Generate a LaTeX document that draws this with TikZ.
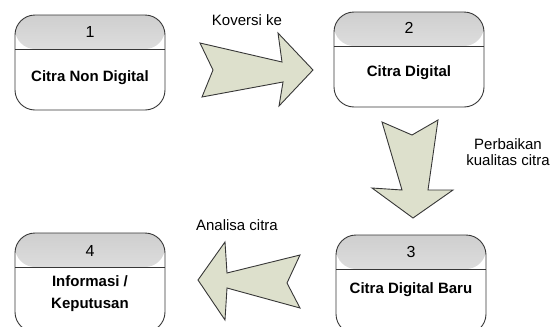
\documentclass[tikz,border=0pt]{standalone}
\usepackage{fontspec}
\setmainfont{Liberation Sans}
\usetikzlibrary{positioning}
\definecolor{garis}{RGB}{55,55,55}
\definecolor{isipanah}{RGB}{221,224,204}

\begin{document}
\begin{tikzpicture}[
    x = 1pt, y = -1pt,
    proses/.style = {rectangle, draw=garis, line width=0.9pt, rounded corners=20pt,
      minimum width=150pt, minimum height=95pt, inner sep=0pt,
      path picture={
        \shade[top color=black!19, bottom color=black!3]
          (path picture bounding box.north west) rectangle
          ([yshift=-34pt]path picture bounding box.north east);
        \draw[garis, line width=0.9pt]
          ([yshift=-34pt]path picture bounding box.north west) --
          ([yshift=-34pt]path picture bounding box.north east);}},
    nomor/.style = {font=\fontsize{16}{18}\selectfont},
    judul/.style = {font=\bfseries\fontsize{15}{22}\selectfont, align=center},
    panah/.style = {draw=garis, fill=isipanah, line width=0.9pt, line join=miter},
    ket/.style = {font=\fontsize{15}{16}\selectfont, align=center}
    ]
  \useasboundingbox (0,0) rectangle (555,327);

  % kotak proses
  \node[proses] (p1) at (90,62.5) {} ;
  \node[nomor] (n1) at ([yshift=-17pt]p1.north) {1} ;
  \node[judul] (t1) at ([yshift=-63pt]p1.north) {Citra Non Digital} ;

  \node[proses] (p2) at (409,59.5) {} ;
  \node[nomor] (n2) at ([yshift=-16pt]p2.north) {2} ;
  \node[judul] (t2) at ([yshift=-61pt]p2.north) {Citra Digital} ;

  \node[proses, minimum height=99pt] (p3) at (411,284.5) {} ;
  \node[nomor] (n3) at ([yshift=-17pt]p3.north) {3} ;
  \node[judul] (t3) at ([yshift=-55pt]p3.north) {Citra Digital Baru} ;

  \node[proses, minimum height=99pt] (p4) at (90,282.5) {} ;
  \node[nomor] (n4) at ([yshift=-18pt]p4.north) {4} ;
  \node[judul] (t4) at ([yshift=-61pt]p4.north) {Informasi /\\Keputusan} ;

  % panah besar
  \draw[panah] (200,43) -- (282,62) -- (278,33) -- (313,70) -- (279,106)
    -- (283,82) -- (202,97) -- (213,70) -- cycle ;
  \draw[panah] (382,122) -- (412,135) -- (438,120) -- (428,190) -- (453,190)
    -- (413,218) -- (372,188) -- (402,190) -- cycle ;
  \draw[panah] (198,280) -- (225,242) -- (227,273) -- (300,255) -- (287,283)
    -- (300,308) -- (227,288) -- (225,320) -- cycle ;

  % keterangan
  \node[ket] (k1) at (247,20) {Koversi ke} ;
  \node[ket] (k2) at (508,152) {Perbaikan\\kualitas citra} ;
  \node[ket] (k3) at (237,225) {Analisa citra} ;
\end{tikzpicture}
\end{document}
